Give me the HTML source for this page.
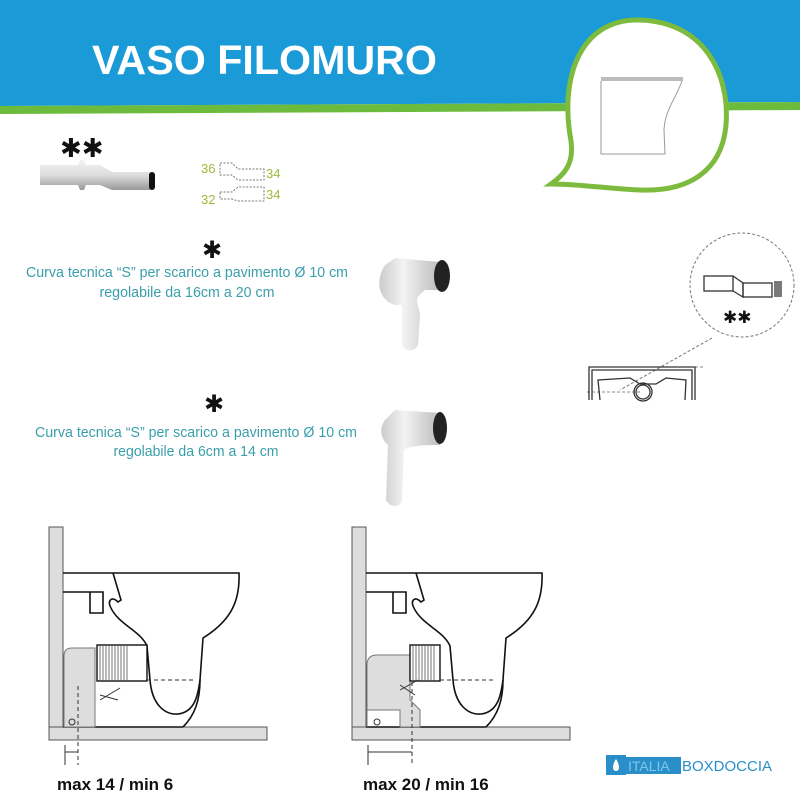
<!DOCTYPE html>
<html><head><meta charset="utf-8"><style>
html,body{margin:0;padding:0;background:#fff}
svg{display:block}
</style></head><body>
<svg width="800" height="800" viewBox="0 0 800 800" xmlns="http://www.w3.org/2000/svg" font-family="Liberation Sans, sans-serif">
<rect width="800" height="800" fill="#fff"/>
<!-- header -->
<polygon points="0,0 800,0 800,102 0,106" fill="#1a9ad6"/>
<polygon points="0,106 800,102 800,110 0,114" fill="#6cbb3c"/>
<text x="92" y="74" font-size="41" font-weight="bold" fill="#fff" textLength="345" lengthAdjust="spacingAndGlyphs">VASO FILOMURO</text>
<!-- bubble -->
<path d="M640,20 C705,22 730,75 726,125 C722,170 690,192 640,190 C610,189 580,184 551,184 C568,172 575,160 570,135 C560,70 585,18 640,20 Z" fill="#fff" stroke="#7dbb3e" stroke-width="5"/>
<rect x="601" y="77" width="82" height="4" fill="#bbb"/>
<path d="M601,81 L601,154 L665,154 L664,130 C665,110 675,100 682,81" fill="#fff" stroke="#999" stroke-width="1"/>
<!-- ** top -->
<text x="60" y="157" font-size="26" fill="#111" font-family="DejaVu Sans, sans-serif">✱✱</text>
<!-- pipe -->
<defs>
<linearGradient id="g" x1="0" y1="0" x2="0" y2="1"><stop offset="0" stop-color="#f4f4f4"/><stop offset="0.5" stop-color="#ddd"/><stop offset="1" stop-color="#999"/></linearGradient>
</defs>
<path d="M40,165 L78,165 L80,160 L84,160 L86,165 L100,165 L112,172 L150,172 L150,190 L112,190 L100,185 L86,185 L84,190 L80,190 L78,185 L40,185 Z" fill="url(#g)"/>
<rect x="149" y="172" width="6" height="18" rx="3" fill="#111"/>
<!-- dims -->
<g fill="none" stroke="#777" stroke-dasharray="2,1.5" stroke-width="1">
<path d="M220,163 h12 l6,6 h26 v11 h-26 l-6,-5 h-12 z"/>
<path d="M220,192 h12 l6,-5 h26 v14 h-26 l-6,-2 h-12 z"/>
</g>
<g fill="#9cbb3c" font-size="13">
<text x="201" y="173">36</text><text x="266" y="178">34</text>
<text x="201" y="204">32</text><text x="266" y="199">34</text>
</g>
<!-- middle texts -->
<text x="212" y="258" font-size="24" text-anchor="middle" fill="#111" font-family="DejaVu Sans, sans-serif">✱</text>
<g fill="#3a9eab" font-size="14.5" text-anchor="middle">
<text x="187" y="277" textLength="322" lengthAdjust="spacingAndGlyphs">Curva tecnica “S” per scarico a pavimento Ø 10 cm</text>
<text x="187" y="297" textLength="175" lengthAdjust="spacingAndGlyphs">regolabile da 16cm a 20 cm</text>
</g>
<text x="214" y="412" font-size="24" text-anchor="middle" fill="#111" font-family="DejaVu Sans, sans-serif">✱</text>
<g fill="#3a9eab" font-size="14.5" text-anchor="middle">
<text x="196" y="437" textLength="322" lengthAdjust="spacingAndGlyphs">Curva tecnica “S” per scarico a pavimento Ø 10 cm</text>
<text x="196" y="456" textLength="165" lengthAdjust="spacingAndGlyphs">regolabile da 6cm a 14 cm</text>
</g>
<!-- S pipes -->
<defs><linearGradient id="p" x1="0" y1="0" x2="1" y2="0"><stop offset="0" stop-color="#ccc"/><stop offset="0.4" stop-color="#f3f3f3"/><stop offset="1" stop-color="#bbb"/></linearGradient></defs>
<path d="M385,265 C375,280 378,300 395,305 L402,305 L402,345 C405,352 415,352 418,345 L420,315 C418,300 412,300 425,290 L440,290 L440,262 L395,258 Z" fill="url(#p)"/>
<ellipse cx="442" cy="276" rx="8" ry="16" fill="#222"/>
<path d="M385,420 C378,430 382,440 388,445 L386,500 C390,508 400,508 402,500 L404,450 C410,445 430,445 440,445 L440,413 L395,410 Z" fill="url(#p)"/>
<ellipse cx="440" cy="428" rx="7" ry="16" fill="#222"/>
<!-- right detail -->
<circle cx="742" cy="285" r="52" fill="none" stroke="#777" stroke-dasharray="3,2"/>
<g fill="none" stroke="#333" stroke-width="1.3">
<rect x="704" y="276" width="29" height="15"/>
<path d="M733,276 L743,283 L743,297 L733,291"/>
<rect x="743" y="283" width="29" height="14"/>
<path d="M775,281 v16 M777,281 v16 M779,281 v16 M781,281 v16"/>
</g>
<text x="723" y="323" font-size="17" fill="#111" font-family="DejaVu Sans, sans-serif">✱✱</text>
<path d="M712,338 L620,390" stroke="#777" stroke-dasharray="3,2" fill="none"/>
<path d="M587,392 L640,392 M690,367 L705,367" stroke="#888" stroke-dasharray="3,2"/>
<g fill="none" stroke="#333" stroke-width="1.3">
<path d="M589,400 L589,367 L695,367 L695,400"/>
<path d="M592,400 L592,370 L692,370 L692,400"/>
<path d="M600,400 L598,380 L630,378 L640,384 L656,384 L666,378 L686,380 L685,400"/>
<circle cx="643" cy="392" r="7"/><circle cx="643" cy="392" r="9"/>
</g>
<!-- bottom diagrams -->
<g id="d1">
<rect x="49" y="527" width="14" height="200" fill="#ddd" stroke="#555"/>
<rect x="49" y="727" width="218" height="13" fill="#ddd" stroke="#555"/>
<g fill="none" stroke="#111" stroke-width="1.6">
<path d="M63,573 L239,573 C240,600 232,620 203,638 L200,680 C200,700 195,715 183,727"/>
<path d="M63,592 L103,592 L103,613 L90,613 L90,592"/>
<path d="M113,573 L121,600 L118,602 C112,596 108,600 110,606 C118,625 140,630 147,646 L150,680 C152,705 165,715 178,714 C195,712 198,695 200,680"/>
<path d="M63,727 L183,727"/>
</g>
<path d="M64,727 L64,656 Q64,648 72,648 L95,648 L95,727 Z" fill="#ddd" stroke="#777"/>
<rect x="97" y="645" width="50" height="36" fill="#fff" stroke="#111" stroke-width="1.4"/>
<g stroke="#555" stroke-width="0.8">
<path d="M100,645v36M103,645v36M106,645v36M109,645v36M112,645v36M115,645v36M118,645v36M121,645v36M124,645v36M127,645v36"/>
</g>
<path d="M147,680 H193" stroke="#333" stroke-dasharray="4,3"/>
<path d="M78,686 V765" stroke="#333" stroke-dasharray="4,3"/>
<circle cx="72" cy="722" r="3" fill="none" stroke="#333"/>
<path d="M100,700 L120,688 M100,695 L118,700" stroke="#333"/>
<path d="M65,745 V765 M65,752 H78" stroke="#333"/>
</g>
<g>
<rect x="352" y="527" width="14" height="200" fill="#ddd" stroke="#555"/>
<rect x="352" y="727" width="218" height="13" fill="#ddd" stroke="#555"/>
<g fill="none" stroke="#111" stroke-width="1.6">
<path d="M366,573 L542,573 C543,600 535,620 506,638 L503,680 C503,700 498,715 486,727"/>
<path d="M366,592 L406,592 L406,613 L393,613 L393,592"/>
<path d="M416,573 L424,600 L421,602 C415,596 411,600 413,606 C421,625 443,630 450,646 L453,680 C455,705 468,715 481,714 C498,712 501,695 503,680"/>
<path d="M366,727 L486,727"/>
</g>
<path d="M367,727 L367,665 Q367,655 377,655 L410,655 L410,700 L420,710 L420,727 L400,727 L400,710 L367,710 Z" fill="#ddd" stroke="#777"/>
<rect x="410" y="645" width="30" height="36" fill="#fff" stroke="#111" stroke-width="1.4"/>
<g stroke="#555" stroke-width="0.8"><path d="M413,645v36M416,645v36M419,645v36M422,645v36M425,645v36M428,645v36M431,645v36M434,645v36"/></g>
<path d="M440,680 H495" stroke="#333" stroke-dasharray="4,3"/>
<path d="M412,682 V765" stroke="#333" stroke-dasharray="4,3"/>
<circle cx="377" cy="722" r="3" fill="none" stroke="#333"/>
<path d="M400,690 L418,680 M400,685 L415,695" stroke="#333"/>
<path d="M368,745 V765 M368,752 H412" stroke="#333"/>
</g>
<text x="57" y="790" font-size="17" font-weight="bold" fill="#111">max 14 / min 6</text>
<text x="363" y="790" font-size="17" font-weight="bold" fill="#111">max 20 / min 16</text>
<!-- logo -->
<rect x="606" y="755" width="20" height="20" fill="#2a8fc8"/>
<path d="M616,759 C612,765 612,771 616,771 C620,771 620,765 616,759Z" fill="#fff"/>
<rect x="626" y="757" width="55" height="17" fill="#2a8fc8"/>
<text x="628" y="771" font-size="14" fill="#7cc6ec">ITALIA</text>
<text x="682" y="771" font-size="15" fill="#2a8fc8">BOXDOCCIA</text>
</svg>
</body></html>
